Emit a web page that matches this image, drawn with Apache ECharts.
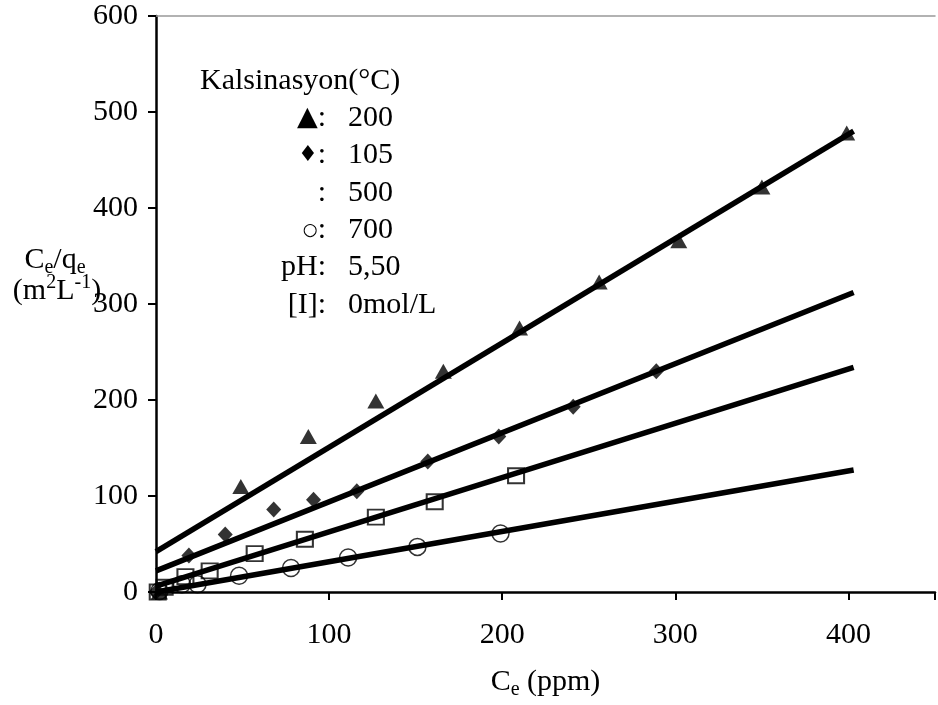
<!DOCTYPE html>
<html>
<head>
<meta charset="utf-8">
<script src="https://cdn.jsdelivr.net/npm/echarts@6/dist/echarts.min.js"></script>
<style>
  html, body { margin: 0; padding: 0; background: #fff; }
  #chart { width: 938px; height: 705px; }
</style>
</head>
<body>
<div id="chart"></div>
<script>
// axis ticks
const xTicks = [0, 100, 200, 300, 400]
const yTicks = [0, 100, 200, 300, 400, 500, 600]

// Ce, Ce/qe points, one list per calcination temperature
const calc200 = [[2, 0], [49, 110], [88, 162], [127, 199], [166, 230], [210, 275], [256, 323], [302, 366], [350, 422], [399, 478]]
const calc105 = [[0, 0], [19, 38], [40, 60], [68, 86], [91, 96], [116, 105], [157, 136], [198, 162], [241, 193], [289, 230]]
const calc500 = [[1, 0], [5, 5], [17, 16], [31, 22], [57, 40], [86, 55], [127, 78], [161, 94], [208, 121]]
const calc700 = [[2, 1], [15, 8], [24, 8], [48, 17], [78, 25], [111, 36], [151, 47], [199, 61]]

// trend lines (start / end)
const fit200 = [[0, 42], [403, 480]]
const fit105 = [[0, 22], [403, 312]]
const fit500 = [[0, 6], [403, 234]]
const fit700 = [[0, 0], [403, 127]]

// legend text
const legendTitle = 'Kalsinasyon(°C)'
const legendRows = [
  ['{t|▲}:', '200'],
  ['{d|♦}:', '105'],
  [':', '500'],
  ['{c|○}:', '700'],
  ['pH:', '5,50'],
  ['[I]:', '0mol/L']
]

const serif = 'Liberation Serif, Times New Roman, serif'
const chart = echarts.init(document.getElementById('chart'))

function fitLine(data) {
  return {
    type: 'line',
    data: data,
    symbol: 'none',
    z: 5,
    silent: true,
    lineStyle: { color: '#000', width: 5.5 }
  }
}

const legendGraphics = [{
  type: 'text',
  left: 200,
  top: 66,
  style: { text: legendTitle, font: '30px ' + serif, fill: '#000' }
}]
legendRows.forEach(function (row, i) {
  const y = 118 + i * 37.4
  legendGraphics.push({
    type: 'text',
    x: 326,
    y: y,
    style: {
      text: row[0],
      align: 'right',
      verticalAlign: 'middle',
      font: '30px ' + serif,
      fill: '#000',
      rich: {
        t: { fontFamily: 'DejaVu Sans', fontSize: 27, fill: '#000' },
        d: { fontFamily: 'DejaVu Sans', fontSize: 22, fill: '#000' },
        c: { fontFamily: 'DejaVu Sans', fontSize: 17, fill: '#000' }
      }
    }
  })
  legendGraphics.push({
    type: 'text',
    x: 348,
    y: y,
    style: { text: row[1], verticalAlign: 'middle', font: '30px ' + serif, fill: '#000' }
  })
})

// y axis title
legendGraphics.push({
  type: 'text',
  x: 55,
  y: 260,
  style: {
    text: '{b|C}{s|e}{b|/q}{s|e}',
    align: 'center',
    verticalAlign: 'middle',
    rich: {
      b: { fontFamily: serif, fontSize: 30, lineHeight: 36, fill: '#000' },
      s: { fontFamily: serif, fontSize: 20, lineHeight: 20, verticalAlign: 'bottom', fill: '#000' }
    }
  }
})
legendGraphics.push({
  type: 'text',
  x: 57,
  y: 291,
  style: {
    text: '{b|(m}{p|2}{b|L}{p|-1}{b|)}',
    align: 'center',
    verticalAlign: 'middle',
    rich: {
      b: { fontFamily: serif, fontSize: 30, lineHeight: 36, fill: '#000' },
      p: { fontFamily: serif, fontSize: 20, lineHeight: 20, verticalAlign: 'top', fill: '#000' }
    }
  }
})

chart.setOption({
  animation: false,
  backgroundColor: '#fff',
  grid: { left: 156, top: 16, width: 794, height: 580 },
  xAxis: [{
    type: 'value',
    min: xTicks[0],
    max: 450,
    interval: xTicks[1] - xTicks[0],
    position: 'bottom',
    axisLine: { show: true, lineStyle: { color: '#000', width: 2.5 } },
    axisTick: { show: true, length: 8, lineStyle: { color: '#000', width: 2 } },
    axisLabel: {
      margin: 28,
      fontFamily: serif, fontSize: 30, color: '#000',
      formatter: function (v) { return xTicks.indexOf(v) >= 0 ? String(v) : '' }
    },
    splitLine: { show: false },
    name: '{b|C}{s|e}{b| (ppm)}',
    nameLocation: 'middle',
    nameGap: 72,
    nameTextStyle: {
      rich: {
        b: { fontFamily: serif, fontSize: 30, lineHeight: 36, color: '#000' },
        s: { fontFamily: serif, fontSize: 20, lineHeight: 20, verticalAlign: 'bottom', color: '#000' }
      }
    }
  }, {
    type: 'value',
    min: xTicks[0],
    max: 450,
    position: 'top',
    axisLine: { show: true, lineStyle: { color: '#999', width: 1.5 } },
    axisTick: { show: false },
    axisLabel: { show: false },
    splitLine: { show: false }
  }],
  yAxis: {
    type: 'value',
    min: yTicks[0],
    max: yTicks[yTicks.length - 1],
    interval: yTicks[1] - yTicks[0],
    axisLine: { show: true, lineStyle: { color: '#000', width: 2.5 } },
    axisTick: { show: true, length: 8, lineStyle: { color: '#000', width: 2 } },
    axisLabel: {
      margin: 18,
      padding: [10, 0, 0, 0],
      fontFamily: serif, fontSize: 30, color: '#000'
    },
    splitLine: { show: false }
  },
  graphic: legendGraphics,
  series: [
    {
      type: 'scatter', data: calc200, symbol: 'triangle', symbolSize: [17, 15], clip: false,
      itemStyle: { color: '#000' }
    },
    {
      type: 'scatter', data: calc105, symbol: 'diamond', symbolSize: [15, 16], clip: false,
      itemStyle: { color: '#000' }
    },
    {
      type: 'scatter', data: calc500, symbol: 'rect', symbolSize: [16, 15], clip: false,
      itemStyle: { color: 'rgba(0,0,0,0)', borderColor: '#000', borderWidth: 2 }
    },
    {
      type: 'scatter', data: calc700, symbol: 'circle', symbolSize: 17, clip: false,
      itemStyle: { color: 'rgba(0,0,0,0)', borderColor: '#000', borderWidth: 1.5 }
    },
    fitLine(fit200),
    fitLine(fit105),
    fitLine(fit500),
    fitLine(fit700)
  ]
})
</script>
</body>
</html>
